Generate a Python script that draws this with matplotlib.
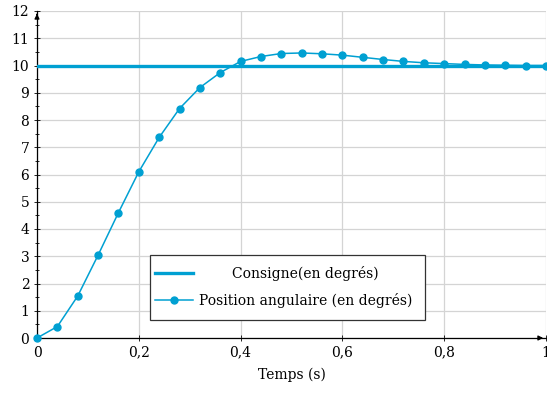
import numpy as np
import matplotlib.pyplot as plt
from matplotlib.patches import Rectangle
from matplotlib.lines import Line2D

# time samples (s) and measured angular position (degrees)
temps = [0.00, 0.04, 0.08, 0.12, 0.16, 0.20, 0.24, 0.28, 0.32, 0.36,
         0.40, 0.44, 0.48, 0.52, 0.56, 0.60, 0.64, 0.68, 0.72, 0.76,
         0.80, 0.84, 0.88, 0.92, 0.96, 1.00]
position = [0.0, 0.42, 1.54, 3.04, 4.60, 6.10, 7.36, 8.42, 9.19, 9.74,
            10.15, 10.33, 10.44, 10.46, 10.43, 10.38, 10.30, 10.22, 10.15, 10.10,
            10.07, 10.04, 10.02, 10.01, 10.00, 10.00]
consigne = 10
consigne_t = [0, 1]

xticks = [0, 0.2, 0.4, 0.6, 0.8, 1]
xtick_labels = ["0", "0,2", "0,4", "0,6", "0,8", "1"]
yticks = list(range(0, 13))

blue = "#00A0D2"
plt.rcParams['font.family'] = ['DejaVu Serif']
plt.rcParams['font.size'] = 10

fig = plt.figure(figsize=(5.47, 3.97), dpi=100)
ax = fig.add_axes([37 / 547, 59 / 397, 509 / 547, 327 / 397])

ax.plot(consigne_t, [consigne, consigne], color=blue, linewidth=2.4, zorder=3)
ax.plot(temps, position, color=blue, linewidth=1.1, marker='o', markersize=5,
        zorder=4, clip_on=False)

ax.set_xlim(0, 1)
ax.set_ylim(0, 12)
ax.set_xticks(xticks)
ax.set_xticklabels(xtick_labels)
ax.set_yticks(yticks)
ax.set_yticks(np.arange(0.5, 12, 1), minor=True)
ax.grid(True, color="#d4d4d4", linewidth=0.9)
ax.set_axisbelow(True)
ax.tick_params(axis='both', which='major', direction='inout', length=5, width=0.6, pad=3)
ax.tick_params(axis='y', which='minor', direction='inout', length=3, width=0.6)
ax.set_xlabel("Temps (s)", labelpad=6)

for s in ['top', 'right']:
    ax.spines[s].set_visible(False)
for s in ['left', 'bottom']:
    ax.spines[s].set_linewidth(0.9)
ax.annotate("", xy=(0, 1.0), xytext=(0, 0.98), xycoords='axes fraction',
            arrowprops=dict(arrowstyle='-|>', color='k', lw=0.9, mutation_scale=7),
            annotation_clip=False)
ax.annotate("", xy=(1.0, 0), xytext=(0.98, 0), xycoords='axes fraction',
            arrowprops=dict(arrowstyle='-|>', color='k', lw=0.9, mutation_scale=7),
            annotation_clip=False)

# hand-made legend (centred text like the original)
tr = ax.transAxes
x0, y0, w, h = 0.222, 0.055, 0.540, 0.199
ax.add_patch(Rectangle((x0, y0), w, h, transform=tr, facecolor='white',
                       edgecolor='#333333', linewidth=0.9, zorder=6))
row1 = y0 + h * 0.72
row2 = y0 + h * 0.30
ax.add_line(Line2D([0.232, 0.307], [row1, row1], transform=tr, color=blue,
                   linewidth=2.4, zorder=7))
ax.add_line(Line2D([0.232, 0.307], [row2, row2], transform=tr, color=blue,
                   linewidth=1.1, zorder=7))
ax.add_line(Line2D([0.2695], [row2], transform=tr, color=blue, marker='o',
                   markersize=5, zorder=7))
ax.text(0.528, row1, "Consigne(en degrés)", transform=tr, ha='center',
        va='center', zorder=8)
ax.text(0.528, row2, "Position angulaire (en degrés)", transform=tr, ha='center',
        va='center', zorder=8)

fig.savefig("out.png", dpi=100)
